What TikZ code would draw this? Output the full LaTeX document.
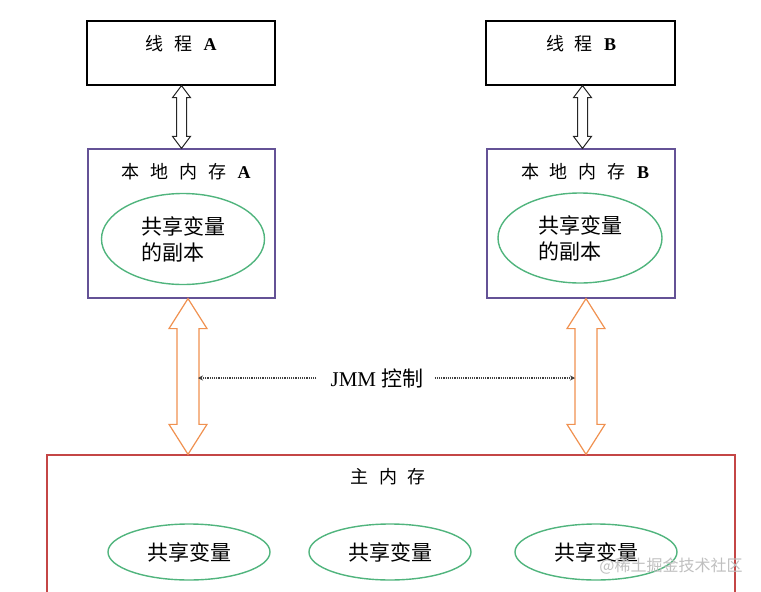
\documentclass[tikz,border=0pt]{standalone}
\usepackage{fontspec}
\setmainfont{Liberation Serif}
\newfontfamily\cjk{Noto Sans CJK SC}
\usetikzlibrary{calc,arrows.meta,shapes.geometric}
\definecolor{lmpurple}{RGB}{100,82,150}
\definecolor{mmred}{RGB}{196,70,70}
\definecolor{vargreen}{RGB}{80,180,125}
\definecolor{arrorange}{RGB}{240,145,80}
\newcommand\tgap{\hspace{11pt}}
% hollow double arrow: top, bottom, shaft half width, head half width, head length, style
\newcommand\fatarrow[6]{%
  \draw[#6] let \p1=(#1), \p2=(#2) in
    (\x1,\y1) -- (\x1+#4,\y1-#5) -- (\x1+#3,\y1-#5) -- (\x1+#3,\y2+#5) -- (\x1+#4,\y2+#5)
    -- (\x1,\y2) -- (\x1-#4,\y2+#5) -- (\x1-#3,\y2+#5) -- (\x1-#3,\y1-#5) -- (\x1-#4,\y1-#5) -- cycle;}
\begin{document}
\begin{tikzpicture}[x=1pt,y=-1pt,
    threadbox/.style={draw,line width=1.2pt,minimum width=188pt,minimum height=64pt,inner sep=0pt},
    localbox/.style={draw=lmpurple,line width=1.2pt,minimum width=187pt,minimum height=149pt,inner sep=0pt},
    mainbox/.style={draw=mmred,line width=1.3pt,minimum width=688pt,minimum height=150pt,inner sep=0pt},
    var/.style={ellipse,draw=vargreen,line width=1.4pt,inner sep=0pt,align=left,
      font=\cjk\fontsize{21}{26}\selectfont},
    title/.style={font=\fontsize{18}{20}\selectfont,inner sep=0pt},
    blackarrow/.style={draw=black!85,line width=1pt,fill=white},
    orangearrow/.style={draw=arrorange,line width=1.2pt,fill=white},
    jmmline/.style={densely dotted,line width=1.2pt,draw=black!75,-{Stealth[length=5pt,width=5pt]}}]
\useasboundingbox (0,0) rectangle (761,592);
\clip (0,0) rectangle (761,592);

% threads
\node[threadbox] (tA) at (181,53) {};
\node[threadbox,minimum width=189pt] (tB) at (580.5,53) {};
\node[title] at (181,44) {{\cjk 线\tgap 程}\tgap\textbf{A}};
\node[title] at (581,44) {{\cjk 线\tgap 程}\tgap\textbf{B}};

% local memory
\node[localbox] (lA) at (181.5,223.5) {};
\node[localbox,minimum width=188pt] (lB) at (581,223.5) {};
\node[title] at (186,172) {{\cjk 本\tgap 地\tgap 内\tgap 存}\tgap\textbf{A}};
\node[title] at (585,172) {{\cjk 本\tgap 地\tgap 内\tgap 存}\tgap\textbf{B}};
\node[var,minimum width=163pt,minimum height=91pt] (cA) at (183,239) {共享变量\\的副本};
\node[var,minimum width=164pt,minimum height=90pt] (cB) at (580,238) {共享变量\\的副本};

% main memory
\node[mainbox] (mm) at (391,530) {};
\node[title] at (388,477) {\cjk 主\tgap 内\tgap 存};
\node[var,minimum width=162pt,minimum height=56pt] (v1) at (189,552) {共享变量};
\node[var,minimum width=162pt,minimum height=56pt] (v2) at (390,552) {共享变量};
\node[var,minimum width=162pt,minimum height=56pt] (v3) at (596,552) {共享变量};

% arrows
\fatarrow{[xshift=0.5pt]tA.south}{lA.north}{5pt}{9pt}{12pt}{blackarrow}
\fatarrow{[xshift=2pt]tB.south}{lB.north}{5pt}{9pt}{12pt}{blackarrow}
\fatarrow{[xshift=6.5pt]lA.south}{mm.north}{11pt}{19pt}{30pt}{orangearrow}
\fatarrow{[xshift=5pt]lB.south}{mm.north}{11pt}{19pt}{30pt}{orangearrow}

% JMM
\node[font=\fontsize{21}{24}\selectfont,inner sep=0pt] (jmm) at (377,378) {JMM {\cjk 控制}};
\coordinate (sA) at (198,378);
\coordinate (sB) at (575,378);
\draw[jmmline] ([xshift=-14pt]jmm.west) -- (sA);
\draw[jmmline] ([xshift=11pt]jmm.east) -- (sB);

\node[font=\cjk\fontsize{16}{18}\selectfont,text=gray!50,inner sep=0pt] at (671,566) {@稀土掘金技术社区};
\end{tikzpicture}
\end{document}
